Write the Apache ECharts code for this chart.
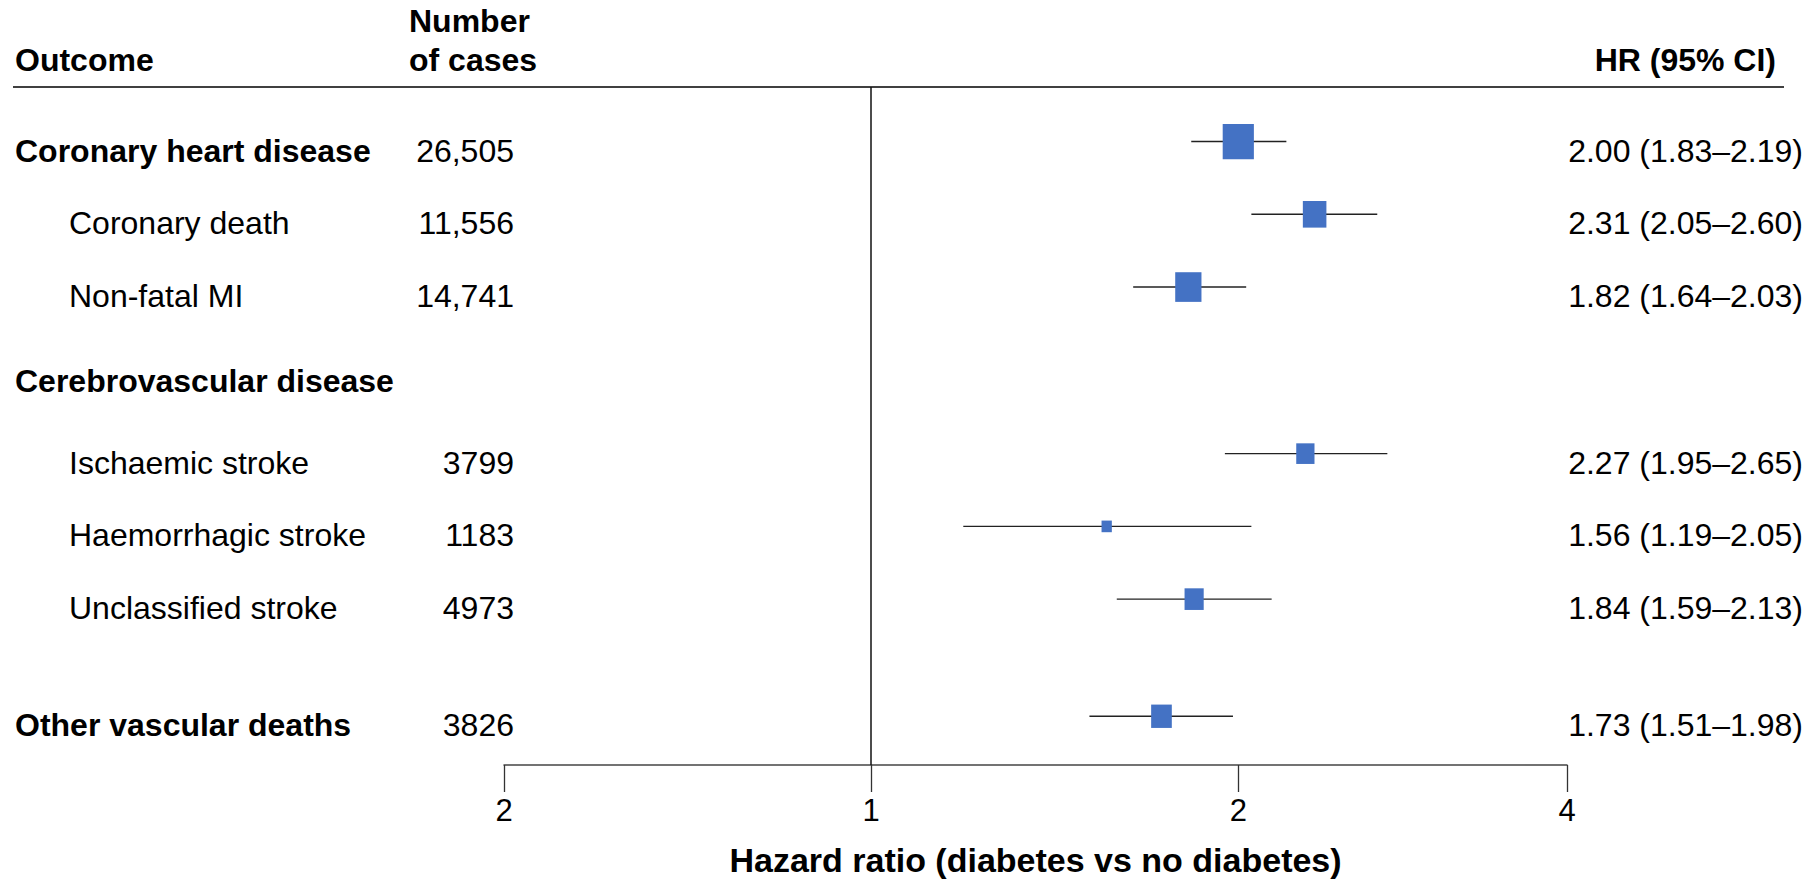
<!DOCTYPE html>
<html>
<head>
<meta charset="utf-8">
<script src="https://cdn.jsdelivr.net/npm/echarts@6/dist/echarts.min.js"></script>
<style>
  html, body { margin: 0; padding: 0; background: #fff; }
  #chart { width: 1816px; height: 882px; }
</style>
</head>
<body>
<div id="chart"></div>
<script>
// outcome rows, top to bottom
const outcomes = [
  "Coronary heart disease",
  "Coronary death",
  "Non-fatal MI",
  "Cerebrovascular disease",
  "Ischaemic stroke",
  "Haemorrhagic stroke",
  "Unclassified stroke",
  "Other vascular deaths"
];
const isHeading = [true, false, false, true, false, false, false, true];
const cases = ["26,505", "11,556", "14,741", "", "3799", "1183", "4973", "3826"];
const hr = [2.00, 2.31, 1.82, null, 2.27, 1.56, 1.84, 1.73];
const ciLow = [1.83, 2.05, 1.64, null, 1.95, 1.19, 1.59, 1.51];
const ciHigh = [2.19, 2.60, 2.03, null, 2.65, 2.05, 2.13, 1.98];

// x axis ticks (log scale, labels as printed)
const tickValues = [0.5, 1, 2, 3.72];
const tickLabels = ["2", "1", "2", "4"];

// layout: vertical slot of each row (in row units)
const rowPos = [0, 1, 2, 3.17, 4.29, 5.29, 6.29, 7.9];

const FONT = "'Liberation Sans', Arial, sans-serif";
const log2 = v => Math.log(v) / Math.LN2;

const chart = echarts.init(document.getElementById("chart"), null, { renderer: "svg" });

// 森林图数据：中心、区间、行位置、方块大小（按 1/SE）
const forestData = [];
hr.forEach((v, i) => {
  if (v == null) return;
  const w = 5.6 / Math.log(ciHigh[i] / ciLow[i]);
  forestData.push([log2(v), log2(ciLow[i]), log2(ciHigh[i]), rowPos[i], w]);
});

chart.setOption({
  animation: false,
  grid: { left: 504, top: 87, width: 1063, height: 683 },
  xAxis: {
    type: "value",
    min: log2(tickValues[0]),
    max: log2(tickValues[tickValues.length - 1]),
    splitLine: { show: false },
    axisLine: { onZero: false, lineStyle: { color: "#444", width: 1.5 } },
    axisTick: {
      length: 27,
      lineStyle: { color: "#333", width: 1.3 },
      customValues: tickValues.map(log2)
    },
    axisLabel: {
      margin: 30,
      fontSize: 31,
      color: "#000",
      fontFamily: FONT,
      customValues: tickValues.map(log2),
      formatter: val => {
        const idx = tickValues.findIndex(t => Math.abs(log2(t) - val) < 1e-6);
        return idx >= 0 ? tickLabels[idx] : "";
      }
    },
    name: "Hazard ratio (diabetes vs no diabetes)",
    nameLocation: "middle",
    nameGap: 78,
    nameTextStyle: { fontSize: 34, fontWeight: "bold", color: "#000", fontFamily: FONT }
  },
  yAxis: {
    type: "value",
    inverse: true,
    min: -0.75,
    max: 8.57,
    show: false
  },
  series: [
    {
      type: "custom",
      data: forestData,
      renderItem: (params, api) => {
        const y = api.value(3);
        const pLo = api.coord([api.value(1), y]);
        const pHi = api.coord([api.value(2), y]);
        const pC = api.coord([api.value(0), y]);
        const w = api.value(4);
        const h = w * 1.13;
        return {
          type: "group",
          children: [
            {
              type: "line",
              shape: { x1: pLo[0], y1: pLo[1], x2: pHi[0], y2: pHi[1] },
              style: { stroke: "#222", lineWidth: 1.4 }
            },
            {
              type: "rect",
              shape: { x: pC[0] - w / 2, y: pC[1] - h / 2, width: w, height: h },
              style: { fill: "#4472C4" }
            }
          ]
        };
      },
      markLine: {
        silent: true,
        symbol: "none",
        label: { show: false },
        lineStyle: { color: "#111", width: 1.5, type: "solid" },
        data: [{ xAxis: 0 }]
      }
    }
  ]
});

// 表格文字列
const graphics = [
  { type: "line", shape: { x1: 13, y1: 87, x2: 1784, y2: 87 }, style: { stroke: "#000", lineWidth: 1.5 } },
  { type: "text", x: 15, y: 60, style: { text: "Outcome", font: "bold 32px " + FONT, fill: "#000", verticalAlign: "middle" } },
  { type: "text", x: 409, y: 21, style: { text: "Number", font: "bold 32px " + FONT, fill: "#000", verticalAlign: "middle" } },
  { type: "text", x: 409, y: 60, style: { text: "of cases", font: "bold 32px " + FONT, fill: "#000", verticalAlign: "middle" } },
  { type: "text", x: 1776, y: 60, style: { text: "HR (95% CI)", font: "bold 32px " + FONT, fill: "#000", align: "right", verticalAlign: "middle" } }
];

outcomes.forEach((name, i) => {
  const y = chart.convertToPixel({ yAxisIndex: 0 }, rowPos[i]) + 9;
  graphics.push({
    type: "text",
    x: isHeading[i] ? 15 : 69,
    y: y,
    style: {
      text: name,
      font: (isHeading[i] ? "bold " : "") + "32px " + FONT,
      fill: "#000",
      verticalAlign: "middle"
    }
  });
  if (cases[i]) {
    graphics.push({
      type: "text",
      x: 514,
      y: y,
      style: { text: cases[i], font: "32px " + FONT, fill: "#000", align: "right", verticalAlign: "middle" }
    });
  }
  if (hr[i] != null) {
    graphics.push({
      type: "text",
      x: 1803,
      y: y,
      style: {
        text: hr[i].toFixed(2) + " (" + ciLow[i].toFixed(2) + "\u2013" + ciHigh[i].toFixed(2) + ")",
        font: "32px " + FONT,
        fill: "#000",
        align: "right",
        verticalAlign: "middle"
      }
    });
  }
});

chart.setOption({ graphic: graphics });

window.addEventListener("resize", () => chart.resize());
</script>
</body>
</html>
